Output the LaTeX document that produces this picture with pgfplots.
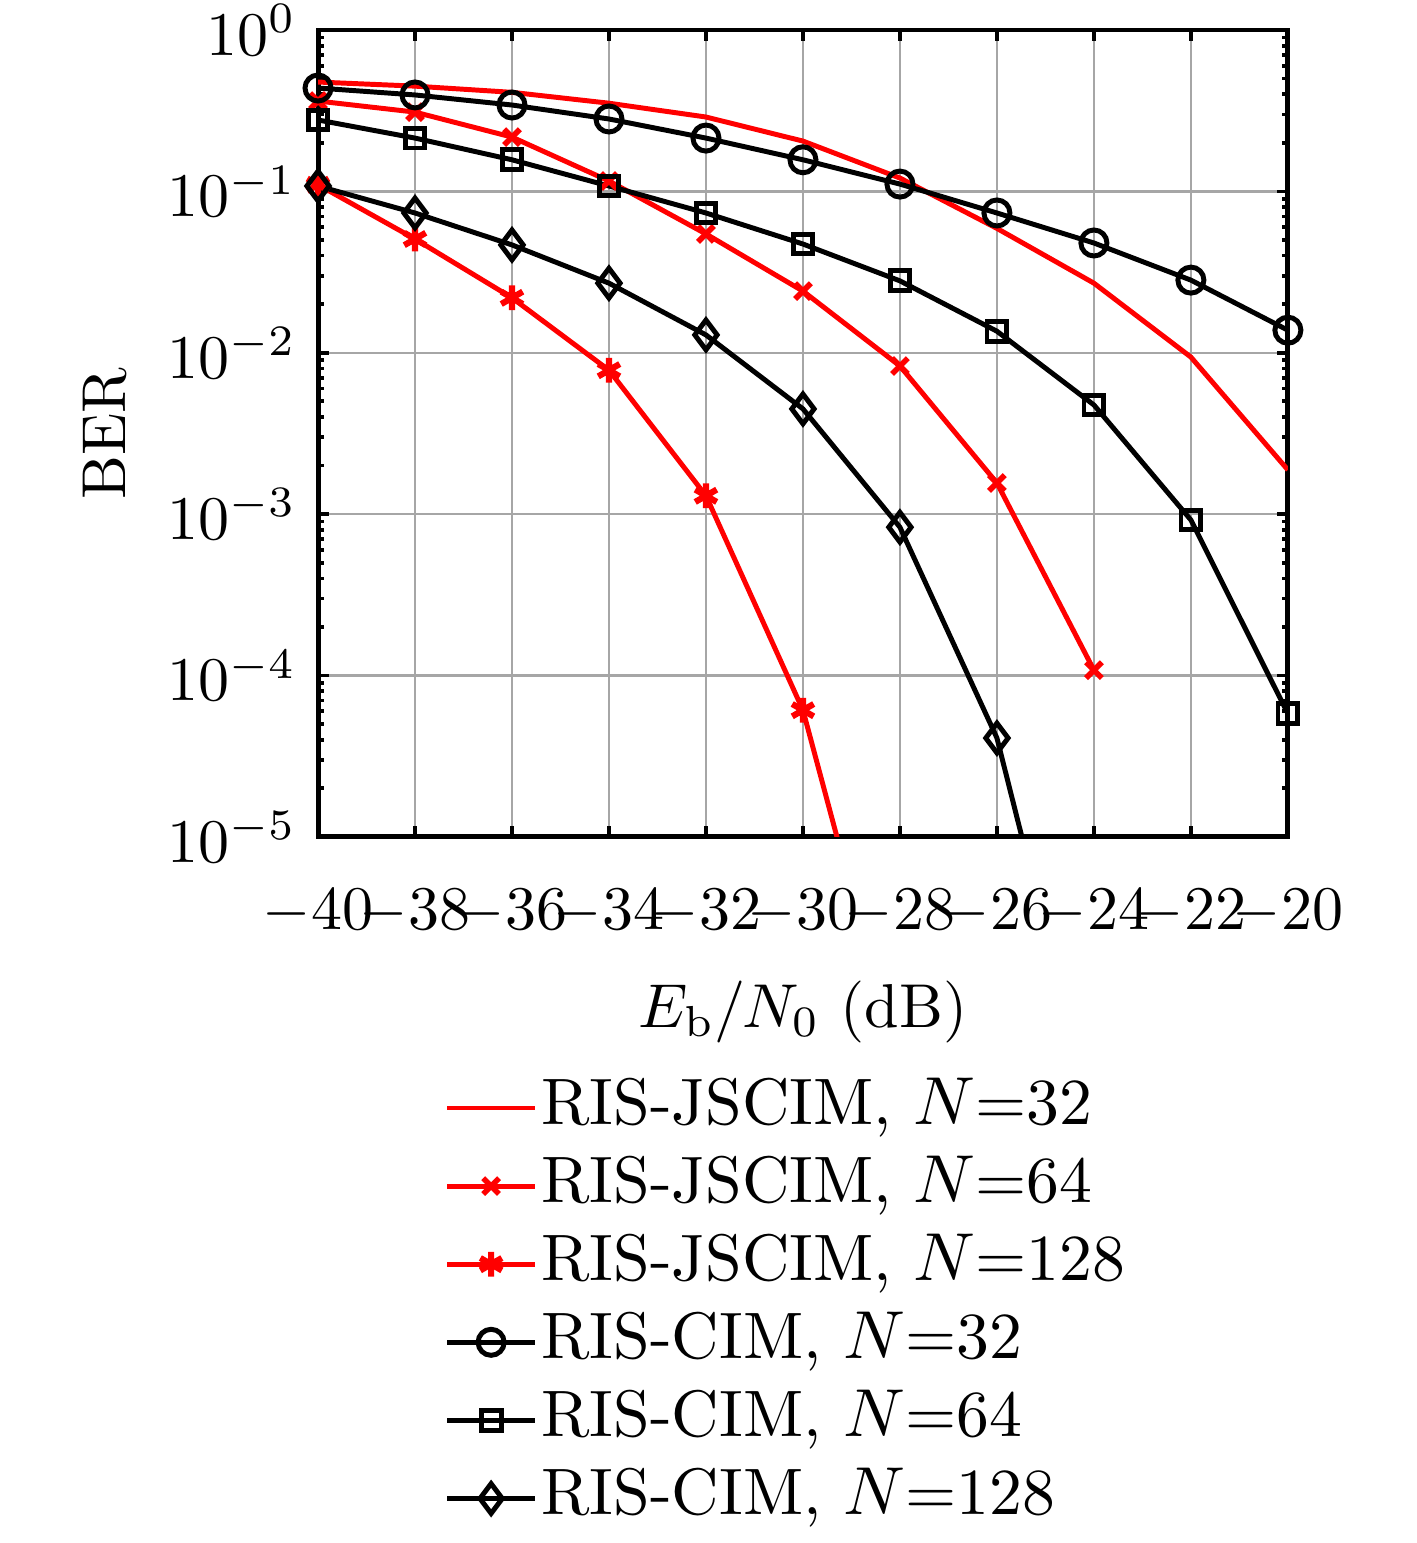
\documentclass[border=0pt]{standalone}
\usepackage{pgfplots}
\pgfplotsset{compat=1.18}
\begin{document}
\begin{tikzpicture}
\begin{axis}[
  name=ax,
  scale only axis,
  width=156.45pt, height=130.16pt,
  xmin=-40, xmax=-20, ymin=1e-5, ymax=1,
  ymode=log,
  xtick={-40,-38,...,-20},
  ytick={1e-5,1e-4,1e-3,1e-2,1e-1,1},
  grid=major,
  major grid style={gray!70, line width=0.4pt},
  tick align=inside,
  major tick length=1.7pt,
  minor tick length=1pt,
  tick style={black, line width=0.6pt},
  axis line style={line width=0.8pt},
  xticklabel style={yshift=-5pt},
  xlabel={$E_\mathrm{b}/N_0$ (dB)},
  ylabel={BER},
  xlabel style={at={(axis description cs:0.5,-0.217)}, anchor=center},
  ylabel style={at={(axis description cs:-0.22,0.5)}, anchor=center},
  legend cell align=left,
  legend style={draw=none, fill=none, at={(0.11,-0.276)}, anchor=north west,
    font=\fontsize{10.6pt}{12pt}\selectfont,
    nodes={inner sep=0.6pt, text height=7.6pt, text depth=2.4pt}, row sep=1.4pt},
  legend image code/.code={\draw[mark repeat=2,mark phase=2] plot coordinates {(0cm,0cm) (0.25cm,0cm) (0.5cm,0cm)};},
  every axis plot/.append style={line width=0.8pt},
]
% RIS-JSCIM N=32
\addplot[red, no marks] coordinates {
(-40,0.476) (-38,0.449) (-36,0.411) (-34,0.352) (-32,0.289) (-30,0.205)
(-28,0.121) (-26,0.059) (-24,0.027) (-22,0.0094) (-20,0.00188)};
\addlegendentry{RIS-JSCIM, $N$=32}
% RIS-JSCIM N=64
\addplot[red, mark=x, mark size=1.8pt, mark options={line width=0.9pt}] coordinates {
(-40,0.363) (-38,0.31) (-36,0.217) (-34,0.116) (-32,0.0545) (-30,0.0241)
(-28,0.00828) (-26,0.00156) (-24,1.08e-4)};
\addlegendentry{RIS-JSCIM, $N$=64}
% RIS-JSCIM N=128
\addplot[red, mark=asterisk, mark size=2pt, mark options={line width=1pt}] coordinates {
(-40,0.11) (-38,0.0507) (-36,0.0219) (-34,0.0078) (-32,0.0013) (-30,6.1e-5)
(-28,3.5e-7)};
\addlegendentry{RIS-JSCIM, $N$=128}
% RIS-CIM N=32
\addplot[black, mark=o, mark size=2.1pt] coordinates {
(-40,0.437) (-38,0.396) (-36,0.343) (-34,0.281) (-32,0.214) (-30,0.157)
(-28,0.111) (-26,0.0735) (-24,0.0479) (-22,0.0282) (-20,0.0138)};
\addlegendentry{RIS-CIM, $N$=32}
% RIS-CIM N=64
\addplot[black, mark=square, mark size=1.6pt] coordinates {
(-40,0.277) (-38,0.214) (-36,0.157) (-34,0.108) (-32,0.0735) (-30,0.0472)
(-28,0.0279) (-26,0.0136) (-24,0.00475) (-22,9.2e-4) (-20,5.8e-5)};
\addlegendentry{RIS-CIM, $N$=64}
% RIS-CIM N=128
\addplot[black, mark=diamond, mark size=2.4pt] coordinates {
(-40,0.108) (-38,0.0735) (-36,0.0466) (-34,0.027) (-32,0.0129) (-30,0.00449)
(-28,8.3e-4) (-26,4.1e-5) (-24,1.7e-7)};
\addlegendentry{RIS-CIM, $N$=128}
\end{axis}
\pgfresetboundingbox
\path (ax.south west) ++(-51.3pt,-113.9pt) rectangle ++(228.5pt,248.9pt);
\end{tikzpicture}
\end{document}
